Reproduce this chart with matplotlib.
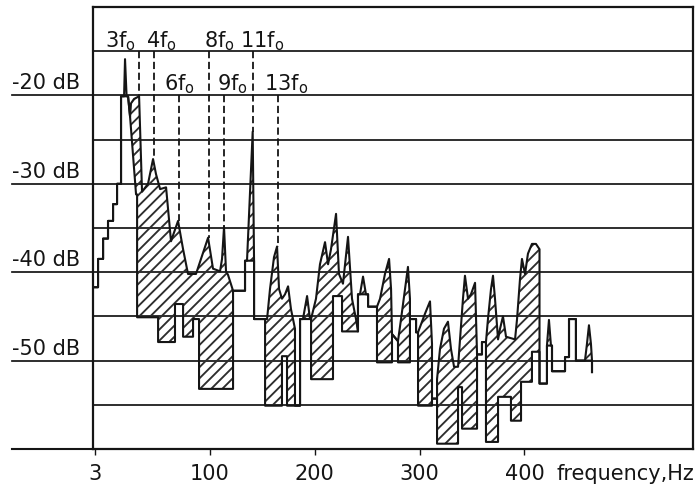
import matplotlib
matplotlib.use('Agg')
import matplotlib.pyplot as plt

plt.rcParams['font.family'] = ['DejaVu Sans']
plt.rcParams['mathtext.fontset'] = 'dejavusans'
plt.rcParams['hatch.linewidth'] = 1.35

# ---------------- data (frequency in Hz, level in dB) ----------------
# upper contour: measured spectrum with harmonic peaks
upper_hz = [
    -11.0, -6.2, -6.2, -1.4, -1.4, 3.3, 3.3, 8.1, 8.1, 11.9, 11.9, 15.7,
    15.7, 18.6, 19.5, 21.0, 22.4, 24.3, 25.2, 28.1, 32.9, 35.7,
    41.4, 46.2, 49.0, 52.9, 58.6, 63.3, 70.0, 74.8, 79.5, 87.1, 98.6,
    103.3, 110.0, 111.9, 113.8, 115.7, 117.6, 122.4, 133.8, 133.8, 135.7, 141.1, 142.4, 142.4, 152.9,
    154.8, 157.6, 161.4, 164.3, 166.2, 169.0, 171.9, 174.8, 177.6, 181.4, 181.4, 186.2, 186.2,
    189.0, 192.9, 195.7, 196.7, 201.4, 205.2, 210.0, 212.9, 215.7, 220.5, 223.3, 227.1, 231.9, 235.7, 239.5, 241.4,
    241.4, 243.3, 246.2, 249.0, 251.0, 251.0, 259.5, 262.4, 267.1, 271.0, 272.9, 273.8, 279.5, 282.4, 286.2, 289.0, 290.9, 290.9,
    296.7, 296.7, 298.6, 301.4, 305.2, 310.0, 311.9, 311.9, 316.7, 316.7, 319.5, 323.3, 327.1, 330.0, 332.9, 336.7,
    338.6, 341.4, 343.3, 346.2, 349.0, 352.9, 354.8, 359.5, 359.5, 363.3, 365.2, 368.1, 370.0, 371.9, 374.8,
    376.7, 379.5, 382.4, 391.0, 392.9, 395.7, 397.6, 400.5, 403.3, 407.1, 410.9, 414.3, 414.3,
    414.3, 421.4, 421.4, 423.3, 425.2, 426.2, 426.2, 438.6, 438.6, 442.4, 442.4, 449.0, 449.0, 457.6, 459.5, 461.4, 463.3, 464.3, 464.3,
]
upper_db = [
    -41.7, -41.7, -38.5, -38.5, -36.2, -36.2, -34.2, -34.2, -32.3, -32.3, -30.0, -30.0,
    -20.1, -20.1, -15.9, -20.1, -20.1, -22.4, -20.9, -20.4, -20.1, -30.9,
    -30.0, -27.2, -28.9, -30.6, -30.4, -36.5, -34.2, -37.4, -40.2, -40.2, -36.1,
    -39.6, -39.9, -38.5, -34.9, -39.9, -40.3, -42.1, -42.1, -38.7, -38.7, -24.1, -38.7, -45.3, -45.3,
    -45.3, -41.9, -38.3, -37.1, -41.9, -43.0, -42.5, -41.6, -44.2, -46.4, -55.1, -55.1, -45.3,
    -45.3, -42.7, -45.3, -45.3, -43.0, -39.1, -36.6, -39.1, -37.4, -33.4, -40.2, -41.3, -36.0, -43.0, -45.3, -46.7,
    -42.5, -42.5, -40.5, -42.5, -42.5, -43.9, -43.9, -43.0, -40.2, -38.5, -41.9, -47.0, -47.8, -45.3, -41.9, -39.4, -43.0, -45.3,
    -45.3, -46.8, -46.8, -45.9, -44.7, -43.3, -48.1, -54.3, -54.3, -52.1, -48.7, -46.4, -45.6, -48.7, -50.7, -50.7,
    -47.6, -43.0, -40.4, -43.0, -42.5, -41.2, -49.3, -49.3, -47.9, -47.9, -45.3, -41.9, -40.4, -43.0, -47.6,
    -46.4, -45.0, -47.3, -47.6, -45.3, -40.8, -38.5, -40.2, -37.9, -36.8, -36.8, -37.4, -49.0,
    -52.6, -52.6, -48.3, -45.4, -48.3, -48.3, -51.2, -51.2, -49.6, -49.6, -45.3, -45.3, -50.0, -50.0, -48.1, -46.0, -48.1, -50.0, -51.3,
]

# lower contour: stepped reference level
lower_hz = [
    -11.0, -6.2, -6.2, -1.4, -1.4, 3.3, 3.3, 8.1, 8.1, 11.9, 11.9, 15.7,
    15.7, 22.4, 24.3, 30.0, 31.0, 31.0, 51.0, 51.0, 67.1, 67.1, 74.8, 74.8, 84.3, 84.3, 90.0, 90.0, 122.4, 122.4,
    133.8, 133.8, 142.4, 142.4, 152.9, 152.9, 169.0, 169.0, 173.8, 173.8, 186.2, 186.2, 196.7, 196.7, 217.6, 217.6, 226.2, 226.2, 241.4, 241.4,
    251.0, 251.0, 259.5, 259.5, 273.8, 273.8, 279.5, 279.5, 290.9, 290.9, 296.7, 296.7, 298.6, 298.6, 311.9, 311.9, 316.7, 316.7,
    336.7, 336.7, 340.5, 340.5, 354.8, 354.8, 359.5, 359.5, 363.3, 363.3, 374.8, 374.8, 387.1, 387.1, 396.7, 396.7, 407.1, 407.1, 414.3,
    414.3, 421.4, 421.4, 426.2, 426.2, 438.6, 438.6, 442.4, 442.4, 449.0, 449.0, 457.6, 464.3, 464.3,
]
lower_db = [
    -41.7, -41.7, -38.5, -38.5, -36.2, -36.2, -34.2, -34.2, -32.3, -32.3, -30.0, -30.0,
    -20.1, -20.1, -22.4, -31.2, -31.2, -45.1, -45.1, -47.9, -47.9, -43.6, -43.6, -47.3, -47.3, -45.3, -45.3, -53.2, -53.2, -42.1,
    -42.1, -38.7, -38.7, -45.3, -45.3, -55.1, -55.1, -49.5, -49.5, -55.1, -55.1, -45.3, -45.3, -52.1, -52.1, -42.7, -42.7, -46.7, -46.7, -42.5,
    -42.5, -43.9, -43.9, -50.2, -50.2, -47.0, -47.8, -50.2, -50.2, -45.3, -45.3, -46.8, -46.8, -55.1, -55.1, -54.3, -54.3, -59.4,
    -59.4, -53.0, -53.0, -57.7, -57.7, -49.3, -49.3, -47.9, -47.9, -59.2, -59.2, -54.1, -54.1, -56.8, -56.8, -52.4, -52.4, -49.0, -49.0,
    -52.6, -52.6, -48.3, -48.3, -51.2, -51.2, -49.6, -49.6, -45.3, -45.3, -50.0, -50.0, -50.0, -51.3,
]

# harmonic markers
harm_labels = ['3f$_{\\rm o}$', '4f$_{\\rm o}$', '6f$_{\\rm o}$', '8f$_{\\rm o}$',
               '9f$_{\\rm o}$', '11f$_{\\rm o}$', '13f$_{\\rm o}$']
harm_hz = [32.9, 47.1, 71.0, 99.5, 113.8, 141.4, 165.2]
harm_peak_db = [-20.1, -27.2, -34.2, -36.1, -34.9, -24.1, -37.1]
harm_top_db = [-15, -15, -20, -15, -20, -15, -20]
harm_label_hz = [14.9, 53.8, 71.0, 109.0, 121.4, 150.0, 172.9]
harm_label_db = [-14.5, -14.5, -19.3, -14.5, -19.3, -14.5, -19.3]

grid_db = [-15, -20, -25, -30, -35, -40, -45, -50, -55]
ytick_db = [-20, -30, -40, -50]
ytick_labels = ['-20 dB', '-30 dB', '-40 dB', '-50 dB']
xtick_hz = [-9, 100, 200, 300, 400]
xtick_labels = ['3', '100', '200', '300', '400']
x_title = 'frequency,Hz'

# ---------------- figure ----------------
fig = plt.figure(figsize=(6.96, 4.89), dpi=100)
ax = fig.add_axes([93 / 696, 39 / 489, 600 / 696, 442 / 489])
ax.set_xlim(-11.0, 560.5)
ax.set_ylim(-60, -10)

ink = '#151515'

for g in grid_db:
    ax.axhline(g, color=ink, lw=1.25, zorder=1)

# labelled level lines extend to the left of the frame
ytr = ax.get_yaxis_transform()
for v, lab in zip(ytick_db, ytick_labels):
    ax.plot([-0.135, 0], [v, v], transform=ytr, clip_on=False, color=ink, lw=1.25)
    ax.text(-0.135, v + 0.35, lab, transform=ytr, ha='left', va='bottom',
            fontsize=15, color=ink)
ax.plot([-0.135, 0], [-60, -60], transform=ytr, clip_on=False, color=ink, lw=1.5)

# hatched band between the two contours
poly_x = upper_hz + lower_hz[::-1]
poly_y = upper_db + lower_db[::-1]
ax.fill(poly_x, poly_y, facecolor='none', edgecolor='#2e2e2e', hatch='///',
        linewidth=0, zorder=2)
ax.plot(upper_hz, upper_db, color=ink, lw=1.5, zorder=3)
ax.plot(lower_hz, lower_db, color=ink, lw=1.5, zorder=3)

# harmonic markers
for f, top, pk, lab, lx, ly in zip(harm_hz, harm_top_db, harm_peak_db,
                                   harm_labels, harm_label_hz, harm_label_db):
    ax.plot([f, f], [top, pk], color=ink, lw=1.3, ls=(0, (4, 2)), zorder=3)
    ax.text(lx, ly, lab, ha='center', va='baseline', fontsize=15, color=ink)

# axes styling
for s in ax.spines.values():
    s.set_linewidth(1.6)
    s.set_color(ink)
ax.set_yticks([])
ax.set_xticks(xtick_hz, xtick_labels)
ax.tick_params(axis='x', length=4, width=1, pad=6, direction='out',
               labelsize=15, colors=ink)
ax.text(0.773, -0.032, x_title, transform=ax.transAxes, ha='left', va='top',
        fontsize=15, color=ink)

fig.savefig('out.png', dpi=100)
